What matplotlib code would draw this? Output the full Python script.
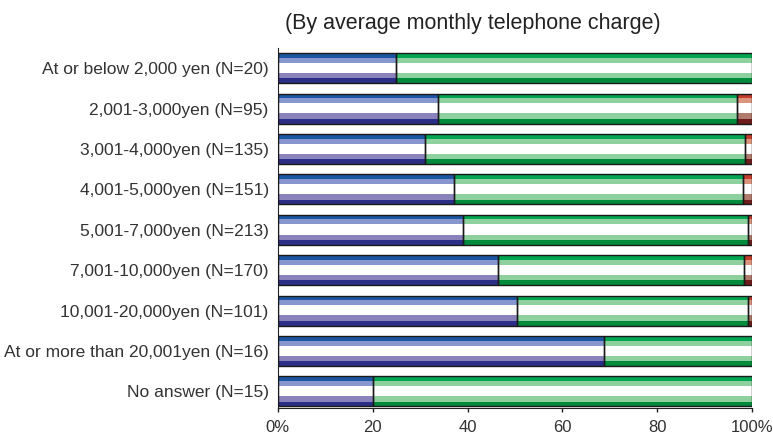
import matplotlib
matplotlib.use("Agg")
import matplotlib.pyplot as plt
from matplotlib.patches import Rectangle

plt.rcParams['font.family'] = ['Liberation Sans', 'DejaVu Sans']

categories = [
    "At or below 2,000 yen (N=20)",
    "2,001-3,000yen (N=95)",
    "3,001-4,000yen (N=135)",
    "4,001-5,000yen (N=151)",
    "5,001-7,000yen (N=213)",
    "7,001-10,000yen (N=170)",
    "10,001-20,000yen (N=101)",
    "At or more than 20,001yen (N=16)",
    "No answer (N=15)",
]
blue_vals = [25.0, 33.7, 31.1, 37.1, 39.0, 46.5, 50.5, 68.8, 20.0]
green_vals = [75.0, 63.1, 67.4, 60.9, 60.1, 51.7, 48.5, 31.2, 80.0]
red_vals = [0.0, 3.2, 1.5, 2.0, 0.9, 1.8, 1.0, 0.0, 0.0]
xticks = [0, 20, 40, 60, 80, 100]
xticklabels = ["0%", "20", "40", "60", "80", "100%"]

# band layout of each bar, fractions measured from the top edge
bands = [(0.00, 0.15), (0.15, 0.32), (0.32, 0.66), (0.66, 0.84), (0.84, 1.00)]
palettes = {
    "blue": ["#1c56a3", "#8796cf", "#ffffff", "#8a82bb", "#2b2e86"],
    "green": ["#00a651", "#8ed09e", "#ffffff", "#8ed09e", "#008a3c"],
    "red": ["#c43c2c", "#dc957c", "#ffffff", "#b07a6c", "#6e1c1c"],
}

fig = plt.figure(figsize=(7.73, 4.36), dpi=100)
ax = fig.add_axes([0.3593, 0.0642, 0.6139, 0.8257])

H = 0.74


def draw_segment(y, left, width, pal):
    if width <= 0:
        return
    top = y - H / 2
    for (a, b), col in zip(bands, palettes[pal]):
        ax.barh(top + (a + b) / 2 * H, width, height=(b - a) * H, left=left,
                color=col, edgecolor="none", linewidth=0, zorder=2)
    ax.add_patch(Rectangle((left, top), width, H, fill=False,
                           edgecolor="#1a1a1a", linewidth=1.0, zorder=3))


for i in range(len(categories)):
    b, g, r = blue_vals[i], green_vals[i], red_vals[i]
    draw_segment(i, 0, b, "blue")
    draw_segment(i, b, g, "green")
    draw_segment(i, b + g, r, "red")

ax.set_xlim(0, 100)
ax.set_ylim(8.41, -0.5)
ax.set_yticks(range(len(categories)))
ax.set_yticklabels(categories, fontsize=12.5, color="#333333")
ax.tick_params(axis="y", length=0, pad=6.5)
ax.set_xticks(xticks)
ax.set_xticklabels(xticklabels, fontsize=12, color="#333333")
ax.tick_params(axis="x", length=3, width=1, color="#222222", pad=5.5)

for s in ["top", "right"]:
    ax.spines[s].set_visible(False)
ax.spines["left"].set_color("#222222")
ax.spines["bottom"].set_color("#222222")

fig.text(0.612, 0.945, "(By average monthly telephone charge)",
         ha="center", va="center", fontsize=15.5, color="#222222")

fig.savefig("out.png", dpi=100)
